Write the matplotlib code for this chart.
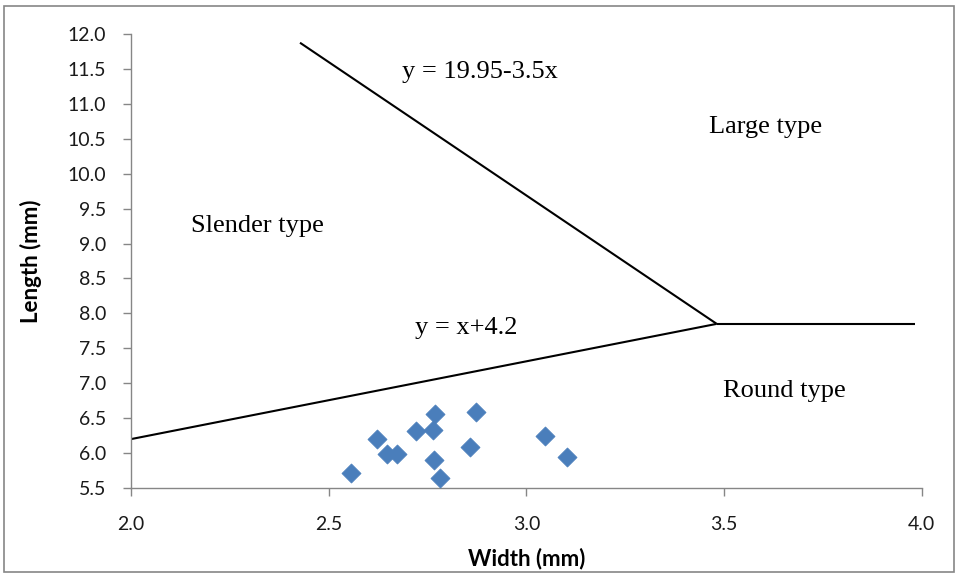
import matplotlib
matplotlib.use("Agg")
import matplotlib.pyplot as plt
from matplotlib.patches import Rectangle

# Data
width_mm = [2.556, 2.621, 2.648, 2.672, 2.721, 2.763, 2.769, 2.767, 2.782, 2.857, 2.872, 3.047, 3.102]
length_mm = [5.72, 6.20, 5.98, 5.99, 6.31, 6.33, 6.56, 5.90, 5.64, 6.08, 6.59, 6.25, 5.95]

# Boundary lines (as drawn)
steep_x = [2.4275, 3.4815]
steep_y = [11.875, 7.85]
lower_x = [2.0, 3.4815]
lower_y = [6.2, 7.85]
flat_x = [3.4815, 3.983]
flat_y = [7.85, 7.85]

x_ticks = [2.0, 2.5, 3.0, 3.5, 4.0]
y_ticks = [5.5, 6.0, 6.5, 7.0, 7.5, 8.0, 8.5, 9.0, 9.5, 10.0, 10.5, 11.0, 11.5, 12.0]

labels = ["y = 19.95-3.5x", "Large type", "Slender type", "y = x+4.2", "Round type"]
label_x = [2.883, 3.604, 2.321, 2.847, 3.652]
label_y = [11.456, 10.668, 9.249, 7.788, 6.885]

tick_font = "Lato"
serif_font = "Liberation Serif"
axis_gray = "#868686"

fig = plt.figure(figsize=(9.58, 5.76), dpi=100)
ax = fig.add_axes([131 / 958, 1 - 488 / 576, (921.7 - 131) / 958, (488 - 34) / 576])

ax.plot(steep_x, steep_y, color="black", lw=1.5, solid_capstyle="butt")
ax.plot(lower_x, lower_y, color="black", lw=1.5, solid_capstyle="butt")
ax.plot(flat_x, flat_y, color="black", lw=1.5, solid_capstyle="butt")

ax.scatter(width_mm, length_mm, marker="D", s=95, color="#4a7ebb", edgecolors="#4a7ebb",
           linewidths=0.5, zorder=3)

for t, x, y in zip(labels, label_x, label_y):
    ax.text(x, y, t, ha="center", va="center", fontsize=19, family=serif_font, color="black")

ax.set_xlim(2.0, 4.0)
ax.set_ylim(5.5, 12.0)
ax.set_xticks(x_ticks)
ax.set_yticks(y_ticks)
ax.set_xticklabels([f"{v:.1f}" for v in x_ticks])
ax.set_yticklabels([f"{v:.1f}" for v in y_ticks])

for s in ["top", "right"]:
    ax.spines[s].set_visible(False)
for s in ["left", "bottom"]:
    ax.spines[s].set_color(axis_gray)
    ax.spines[s].set_linewidth(1.0)

ax.tick_params(axis="both", direction="out", length=6, width=1.0, color=axis_gray,
               labelsize=14, labelcolor="#1a1a1a")
ax.tick_params(axis="x", pad=14)
ax.tick_params(axis="y", pad=12)
for lab in ax.get_xticklabels() + ax.get_yticklabels():
    lab.set_family(tick_font)

ax.set_xlabel("Width (mm)", fontsize=16, fontweight="bold", family=tick_font, labelpad=11)
ax.set_ylabel("Length (mm)", fontsize=16, fontweight="bold", family=tick_font, labelpad=18)

fig.patches.append(Rectangle((4 / 958, 4 / 576), 950 / 958, 566 / 576, transform=fig.transFigure,
                             fill=False, edgecolor=axis_gray, lw=1.2))

fig.savefig("out.png", dpi=100)
